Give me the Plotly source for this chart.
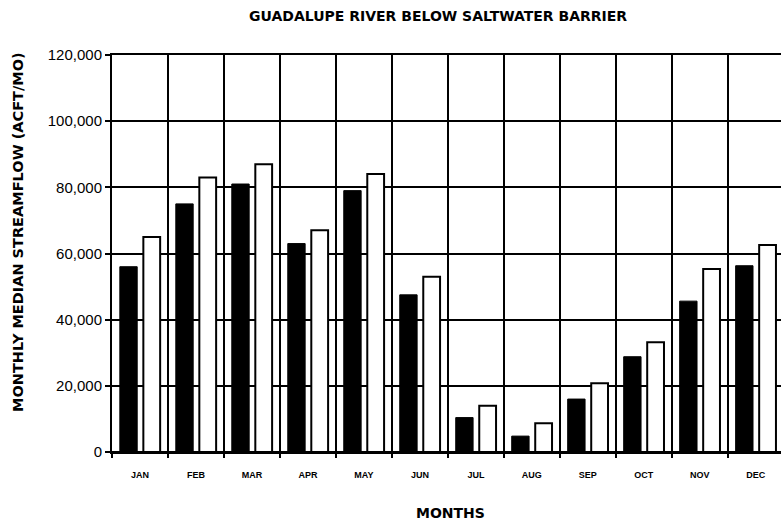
import plotly.graph_objects as go

# Monthly median streamflow, Guadalupe River below Saltwater Barrier (acre-feet per month)
months = ["JAN", "FEB", "MAR", "APR", "MAY", "JUN", "JUL", "AUG", "SEP", "OCT", "NOV", "DEC"]
series_a = [56000, 75000, 81000, 63000, 79000, 47500, 10400, 4800, 16000, 28800, 45600, 56300]
series_b = [65000, 83000, 87000, 67000, 84000, 53000, 14000, 8700, 20800, 33200, 55300, 62600]
y_ticks = [0, 20000, 40000, 60000, 80000, 100000, 120000]

FONT = "Liberation Sans, Arial, sans-serif"
HEAVY = "DejaVu Sans, Liberation Sans, sans-serif"

fig = go.Figure()
fig.add_trace(go.Bar(
    x=months, y=series_a, name="A",
    marker=dict(color="black", line=dict(color="black", width=1)),
    width=0.31, offset=-0.36,
))
fig.add_trace(go.Bar(
    x=months, y=series_b, name="B",
    marker=dict(color="white", line=dict(color="black", width=2)),
    width=0.30, offset=0.06,
))

fig.update_layout(
    width=781, height=524,
    margin=dict(l=112, r=0, t=55, b=72),
    paper_bgcolor="white", plot_bgcolor="white",
    showlegend=False,
    barmode="group",
    font=dict(family=FONT, color="black"),
)

fig.update_xaxes(
    type="category",
    range=[-0.5, 11.45],
    tickson="boundaries",
    showgrid=True, gridcolor="black", gridwidth=2,
    showline=True, linecolor="black", linewidth=2, mirror=True,
    ticks="outside", ticklen=4, tickcolor="black", tickwidth=1.5,
    ticklabelstandoff=13,
    tickfont=dict(family=FONT, size=9, color="black", weight="bold"),
)
fig.update_yaxes(
    range=[0, 120000],
    tickvals=y_ticks, tickformat=",",
    showgrid=True, gridcolor="black", gridwidth=1.5,
    showline=True, linecolor="black", linewidth=2,
    zeroline=True, zerolinecolor="black", zerolinewidth=2,
    ticks="outside", ticklen=5, tickcolor="black", tickwidth=1.5,
    tickfont=dict(family=FONT, size=15, color="black"),
)

fig.add_annotation(
    text="GUADALUPE RIVER BELOW SALTWATER BARRIER",
    xref="paper", yref="paper", x=0.487, y=1.0 + 39 / 397,
    showarrow=False, xanchor="center", yanchor="middle",
    font=dict(family=HEAVY, size=14, color="black", weight="bold"),
)
fig.add_annotation(
    text="MONTHLY MEDIAN STREAMFLOW (ACFT/MO)",
    xref="paper", yref="paper", x=(18 - 112) / 669, y=(452 - 232) / 397,
    textangle=-90, showarrow=False, xanchor="center", yanchor="middle",
    font=dict(family=HEAVY, size=14.5, color="black", weight="bold"),
)
fig.add_annotation(
    text="MONTHS",
    xref="paper", yref="paper", x=(450 - 112) / 669, y=(452 - 513) / 397,
    showarrow=False, xanchor="center", yanchor="middle",
    font=dict(family=HEAVY, size=14, color="black", weight="bold"),
)

fig.write_html("out.html")
